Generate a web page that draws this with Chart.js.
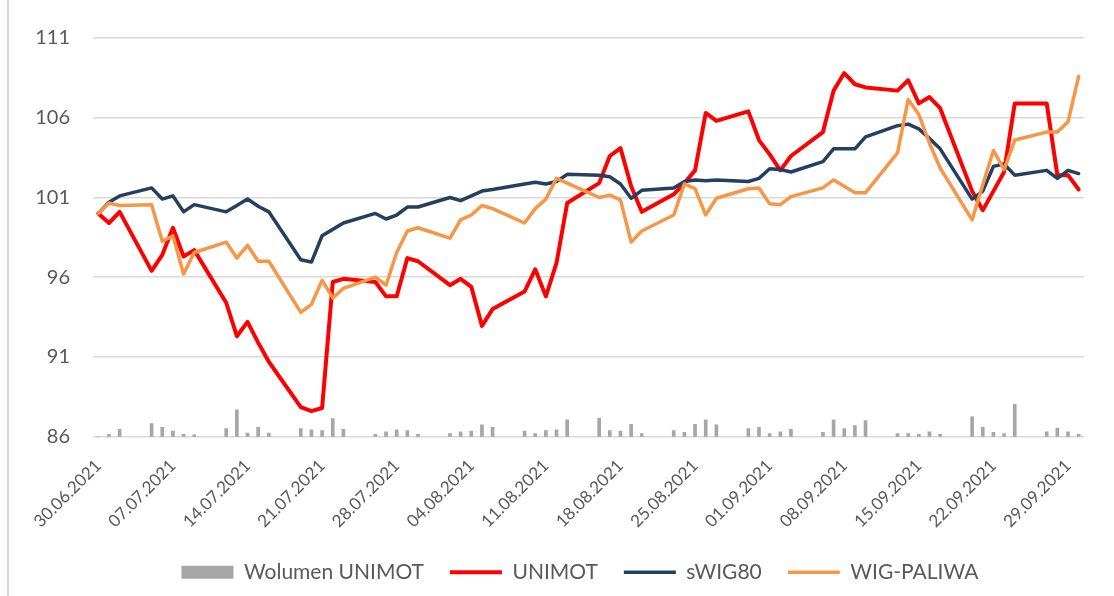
<!DOCTYPE html>
<html>
<head>
<meta charset="utf-8">
<script src="https://cdn.jsdelivr.net/npm/chart.js@4.4.1/dist/chart.umd.min.js"></script>
<style>
  html, body { margin: 0; padding: 0; background: #fff; }
  #wrap { position: relative; width: 1114px; height: 596px; }
  #frame { position: absolute; left: 7px; top: 0; width: 2px; height: 596px; background: #d9d9d9; }
</style>
</head>
<body>
<div id="wrap">
  <div id="frame"></div>
  <canvas id="chart" width="1114" height="596"></canvas>
</div>
<script>
// sesje notowań (dni handlowe)
const tradingDays = [
    '30.06.2021',
    '01.07.2021', '02.07.2021', '05.07.2021', '06.07.2021', '07.07.2021', '08.07.2021', '09.07.2021',
    '12.07.2021', '13.07.2021', '14.07.2021', '15.07.2021', '16.07.2021', '19.07.2021', '20.07.2021',
    '21.07.2021', '22.07.2021', '23.07.2021', '26.07.2021', '27.07.2021', '28.07.2021', '29.07.2021',
    '30.07.2021',
    '02.08.2021', '03.08.2021', '04.08.2021', '05.08.2021', '06.08.2021', '09.08.2021', '10.08.2021',
    '11.08.2021', '12.08.2021', '13.08.2021', '16.08.2021', '17.08.2021', '18.08.2021', '19.08.2021',
    '20.08.2021', '23.08.2021', '24.08.2021', '25.08.2021', '26.08.2021', '27.08.2021', '30.08.2021',
    '31.08.2021',
    '01.09.2021', '02.09.2021', '03.09.2021', '06.09.2021', '07.09.2021', '08.09.2021', '09.09.2021',
    '10.09.2021', '13.09.2021', '14.09.2021', '15.09.2021', '16.09.2021', '17.09.2021', '20.09.2021',
    '21.09.2021', '22.09.2021', '23.09.2021', '24.09.2021', '27.09.2021', '28.09.2021', '29.09.2021',
    '30.09.2021'
];

// podpisy osi X (co tydzień)
const tickLabels = [
    '30.06.2021', '07.07.2021', '14.07.2021', '21.07.2021', '28.07.2021', '04.08.2021', '11.08.2021',
    '18.08.2021', '25.08.2021', '01.09.2021', '08.09.2021', '15.09.2021', '22.09.2021', '29.09.2021'
];

const unimot = [
    100.0,
    99.4, 100.1, 96.4, 97.4, 99.1, 97.3, 97.7,
    94.4, 92.3, 93.2, 91.9, 90.7, 87.85, 87.6,
    87.8, 95.7, 95.9, 95.7, 94.8, 94.8, 97.2,
    97.0,
    95.5, 95.9, 95.4, 92.95, 94.0, 95.1, 96.5,
    94.8, 96.9, 100.65, 101.9, 103.6, 104.1, 101.7,
    100.1, 101.2, 101.9, 102.7, 106.3, 105.8, 106.4,
    104.6,
    103.7, 102.7, 103.6, 105.1, 107.7, 108.8, 108.1,
    107.9, 107.7, 108.35, 106.9, 107.3, 106.6, 101.4,
    100.2, 101.4, 102.6, 106.9, 106.9, 102.4, 102.4,
    101.5
];

const swig80 = [
    100.0,
    100.7, 101.1, 101.6, 100.9, 101.1, 100.1, 100.55,
    100.1, 100.5, 100.9, 100.45, 100.1, 97.1, 96.95,
    98.6, 99.0, 99.4, 100.0, 99.65, 99.9, 100.4,
    100.4,
    101.0, 100.8, 101.1, 101.4, 101.5, 101.85, 101.95,
    101.85, 102.0, 102.45, 102.4, 102.3, 101.85, 100.95,
    101.45, 101.6, 102.0, 102.1, 102.05, 102.1, 102.0,
    102.2,
    102.8, 102.75, 102.6, 103.25, 104.05, 104.05, 104.05,
    104.8, 105.5, 105.6, 105.3, 104.7, 104.05, 100.9,
    101.4, 102.95, 103.1, 102.4, 102.7, 102.2, 102.7,
    102.5
];

const wigPaliwa = [
    100.0,
    100.65, 100.5, 100.55, 98.25, 98.6, 96.2, 97.55,
    98.2, 97.2, 98.0, 97.0, 97.0, 93.8, 94.3,
    95.8, 94.7, 95.3, 96.0, 95.5, 97.55, 98.9,
    99.1,
    98.45, 99.6, 99.9, 100.5, 100.3, 99.4, 100.3,
    100.9, 102.2, 101.9, 101.0, 101.15, 100.85, 98.2,
    98.9, 99.9, 101.85, 101.55, 99.9, 100.95, 101.55,
    101.6,
    100.6, 100.55, 101.05, 101.6, 102.1, 101.7, 101.3,
    101.3, 103.8, 107.15, 106.2, 104.4, 102.85, 99.6,
    101.8, 103.95, 102.75, 104.6, 105.1, 105.1, 105.75,
    108.6
];

// wolumen UNIMOT (tys. szt.)
const volume = [
    0,
    4, 12, 21, 15, 9, 4, 3,
    13, 43, 6, 15, 6, 13, 11,
    10, 29, 12, 4, 8, 11, 10,
    4,
    5, 8, 9, 19, 15, 9, 5,
    10, 11, 27, 30, 10, 9, 20,
    5, 10, 7, 20, 27, 19, 13,
    15,
    5, 8, 12, 7, 27, 13, 18,
    26, 5, 5, 4, 8, 4, 32,
    15, 7, 5, 52, 8, 14, 8,
    4
];

// kolejne dni kalendarzowe (oś dat jak w Excelu)
const calendarDays = [];
for (let d = new Date(Date.UTC(2021, 5, 30)); d <= new Date(Date.UTC(2021, 8, 30)); d.setUTCDate(d.getUTCDate() + 1)) {
    const dd = String(d.getUTCDate()).padStart(2, '0');
    const mm = String(d.getUTCMonth() + 1).padStart(2, '0');
    calendarDays.push(dd + '.' + mm + '.' + d.getUTCFullYear());
}

function toCalendar(values) {
    return calendarDays.map(day => {
        const i = tradingDays.indexOf(day);
        return i === -1 ? null : values[i];
    });
}

// legenda: środek pod obszarem wykresu i nieco wyżej, jak w oryginale
const legendShift = {
    id: 'legendShift',
    afterLayout(chart) {
        const lg = chart.legend;
        lg.left += 38;
        lg.right += 38;
        lg.top -= 14;
        lg.bottom -= 14;
    }
};

Chart.defaults.font.family = 'Lato';
Chart.defaults.color = '#595959';

const ctx = document.getElementById('chart').getContext('2d');
new Chart(ctx, {
    data: {
        labels: calendarDays,
        datasets: [
            {
                type: 'bar',
                label: 'Wolumen UNIMOT',
                data: toCalendar(volume),
                backgroundColor: '#A6A6A6',
                barThickness: 3,
                yAxisID: 'yVol',
                pointStyle: 'rect',
                order: 4
            },
            {
                type: 'line',
                label: 'UNIMOT',
                data: toCalendar(unimot),
                borderColor: '#FF0000',
                backgroundColor: '#FF0000',
                borderWidth: 4,
                pointRadius: 0,
                spanGaps: true,
                borderJoinStyle: 'round',
                borderCapStyle: 'round',
                pointStyle: 'line',
                order: 3
            },
            {
                type: 'line',
                label: 'sWIG80',
                data: toCalendar(swig80),
                borderColor: '#253F60',
                backgroundColor: '#253F60',
                borderWidth: 3.5,
                pointRadius: 0,
                spanGaps: true,
                borderJoinStyle: 'round',
                borderCapStyle: 'round',
                pointStyle: 'line',
                order: 2
            },
            {
                type: 'line',
                label: 'WIG-PALIWA',
                data: toCalendar(wigPaliwa),
                borderColor: '#F79646',
                backgroundColor: '#F79646',
                borderWidth: 3.5,
                pointRadius: 0,
                spanGaps: true,
                borderJoinStyle: 'round',
                borderCapStyle: 'round',
                pointStyle: 'line',
                order: 1
            }
        ]
    },
    options: {
        responsive: false,
        animation: false,
        layout: {
            padding: { left: 0, right: 30, top: 38, bottom: -10.7 }
        },
        plugins: {
            tooltip: { enabled: false },
            legend: {
                position: 'bottom',
                labels: {
                    usePointStyle: true,
                    pointStyleWidth: 52,
                    boxHeight: 13,
                    padding: 26,
                    font: { size: 21 },
                    color: '#595959',
                    sort: (a, b) => a.datasetIndex - b.datasetIndex
                }
            }
        },
        scales: {
            x: {
                offset: true,
                grid: { display: false, drawTicks: false },
                border: { display: false },
                ticks: {
                    autoSkip: false,
                    minRotation: 45,
                    maxRotation: 45,
                    padding: 19,
                    font: { size: 17 },
                    callback: function (value) {
                        const lbl = this.getLabelForValue(value);
                        return tickLabels.includes(lbl) ? lbl : '';
                    }
                },
                afterFit: scale => { scale.height = 113; }
            },
            y: {
                min: 86,
                max: 111,
                grid: { color: '#D9D9D9', lineWidth: 1.5, drawTicks: false },
                border: { display: false },
                ticks: {
                    stepSize: 5,
                    padding: 23,
                    font: { size: 20 }
                },
                afterFit: scale => { scale.width = 93; }
            },
            yVol: {
                display: false,
                min: 0,
                max: 640
            }
        }
    },
    plugins: [legendShift]
});
</script>
</body>
</html>
